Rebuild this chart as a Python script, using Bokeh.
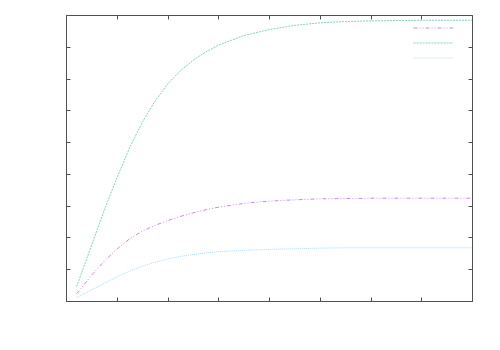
from bokeh.plotting import figure
from bokeh.models import Range1d, FixedTicker, LinearAxis, Legend, LegendItem
from bokeh.core.properties import value
from bokeh.embed import file_html
from bokeh.resources import INLINE

# data
x_vals = [0.2, 0.5, 0.75, 1.0, 1.25, 1.5, 1.75, 2.0, 2.25, 2.5, 2.75, 3.0, 3.5, 4.0, 4.5, 5.0, 5.5, 6.0, 7.0, 8.0]
green_vals = [0.47, 1.80, 2.90, 3.92, 4.86, 5.66, 6.32, 6.86, 7.27, 7.60, 7.86, 8.07, 8.37, 8.56, 8.69, 8.77, 8.81, 8.83, 8.85, 8.85]
purple_vals = [0.24, 0.84, 1.28, 1.66, 1.98, 2.22, 2.40, 2.55, 2.68, 2.79, 2.89, 2.97, 3.09, 3.16, 3.20, 3.23, 3.24, 3.25, 3.25, 3.25]
blue_vals = [0.12, 0.37, 0.58, 0.78, 0.96, 1.11, 1.24, 1.34, 1.42, 1.48, 1.53, 1.57, 1.61, 1.64, 1.66, 1.68, 1.69, 1.69, 1.69, 1.69]
x_ticks = [0, 1, 2, 3, 4, 5, 6, 7, 8]
y_ticks = [0, 1, 2, 3, 4, 5, 6, 7, 8, 9]

p = figure(width=492, height=342, output_backend="svg", toolbar_location=None,
           x_range=Range1d(0, 8), y_range=Range1d(0, 9),
           x_axis_location=None, y_axis_location=None,
           min_border_left=66, min_border_right=20, min_border_top=15, min_border_bottom=41)
p.outline_line_color = None
p.xgrid.visible = False
p.ygrid.visible = False
p.background_fill_color = "white"
p.border_fill_color = "white"

def mk_axis(ticks):
    ax = LinearAxis(ticker=FixedTicker(ticks=ticks))
    ax.major_tick_in = 4
    ax.major_tick_out = 0
    ax.minor_tick_in = 0
    ax.minor_tick_out = 0
    ax.major_label_text_color = None
    ax.major_label_text_font_size = "8px"
    ax.major_label_standoff = 0
    ax.axis_line_color = "#505050"
    ax.major_tick_line_color = "#505050"
    ax.axis_line_width = 1
    return ax

p.add_layout(mk_axis(x_ticks), "below")
p.add_layout(mk_axis(x_ticks), "above")
p.add_layout(mk_axis(y_ticks), "left")
p.add_layout(mk_axis(y_ticks), "right")

r1 = p.line(x_vals, purple_vals, line_color="#9400d3", line_width=0.6, line_alpha=0.8,
            line_dash="4 2 1 2 1 2")
r2 = p.line(x_vals, green_vals, line_color="#009e73", line_width=0.6, line_alpha=0.8,
            line_dash="2 1")
r3 = p.line(x_vals, blue_vals, line_color="#56b4e9", line_width=0.6, line_alpha=0.8,
            line_dash="1 1")

legend = Legend(items=[LegendItem(label=value(" "), renderers=[r1]),
                       LegendItem(label=value(" "), renderers=[r2]),
                       LegendItem(label=value(" "), renderers=[r3])],
                location=(347, 236), padding=0, spacing=0, margin=0,
                glyph_width=40, glyph_height=15, label_height=15, label_standoff=2,
                label_text_font_size="8px", label_text_color=None,
                border_line_color=None, background_fill_alpha=0)
p.add_layout(legend, "center")

open("out.html", "w").write(file_html(p, INLINE))
